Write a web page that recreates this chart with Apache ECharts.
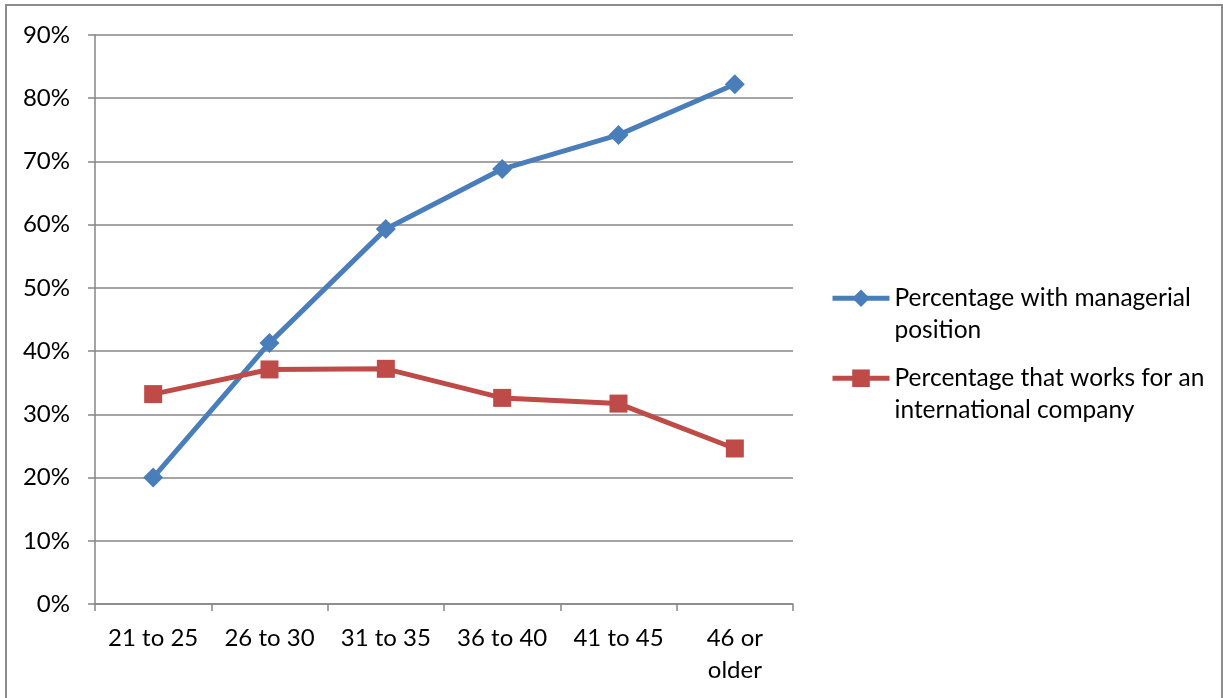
<!DOCTYPE html>
<html>
<head>
<meta charset="utf-8">
<script src="https://cdn.jsdelivr.net/npm/echarts@6/dist/echarts.min.js"></script>
<style>
  html, body { margin: 0; padding: 0; background: #fff; }
  #chart { width: 1223px; height: 698px; }
</style>
</head>
<body>
<div id="chart"></div>
<script>
// Age groups on the x axis
const ageGroups = ['21 to 25', '26 to 30', '31 to 35', '36 to 40', '41 to 45', '46 or\nolder'];
// Share of respondents (%) per age group
const managerial = [20.0, 41.3, 59.3, 68.8, 74.2, 82.2];
const international = [33.2, 37.1, 37.2, 32.6, 31.7, 24.6];
const seriesNames = ['Percentage with managerial position', 'Percentage that works for an international company'];
// Legend labels wrapped over two lines; the leading blank line keeps
// the first text line level with the legend icon.
const legendLines = {
  'Percentage with managerial position': ' \nPercentage with managerial\nposition',
  'Percentage that works for an international company': ' \nPercentage that works for an\ninternational company'
};

const FONT = 'Lato';
const FS = 24;
const chart = echarts.init(document.getElementById('chart'));

const legendCommon = {
  left: 830, orient: 'vertical', padding: 0,
  itemWidth: 57, itemHeight: 22, itemGap: 0,
  lineStyle: { width: 5 },
  formatter: n => legendLines[n],
  textStyle: { fontFamily: FONT, fontSize: 24.5, color: '#000', lineHeight: 31.5 }
};

chart.setOption({
  animation: false,
  graphic: [{
    type: 'rect',
    shape: { x: 6, y: 5, width: 1216, height: 760 },
    style: { fill: 'none', stroke: '#8c8c8c', lineWidth: 2 },
    silent: true
  }],
  grid: { left: 95, right: 430, top: 35, bottom: 94 },
  legend: [
    Object.assign({ data: [seriesNames[0]], top: 251 }, legendCommon),
    Object.assign({ data: [seriesNames[1]], top: 331 }, legendCommon)
  ],
  xAxis: {
    type: 'category',
    data: ageGroups,
    boundaryGap: true,
    axisLine: { lineStyle: { color: '#868686', width: 1.5 } },
    axisTick: { show: true, interval: 0, length: 7, lineStyle: { color: '#868686', width: 1.5 } },
    axisLabel: { interval: 0, fontFamily: FONT, fontSize: FS, color: '#000', margin: 18, lineHeight: 32 },
    splitLine: { show: false }
  },
  yAxis: {
    type: 'value',
    min: 0, max: 90, interval: 10,
    axisLine: { show: true, lineStyle: { color: '#868686', width: 1.5 } },
    axisTick: { show: true, length: 7, lineStyle: { color: '#868686', width: 1.5 } },
    axisLabel: { fontFamily: FONT, fontSize: FS, color: '#000', margin: 25, formatter: '{value}%' },
    splitLine: { show: true, lineStyle: { color: '#868686', width: 1.5 } }
  },
  series: [
    {
      name: seriesNames[0], type: 'line', data: managerial,
      symbol: 'diamond', symbolSize: 20,
      itemStyle: { color: '#4a7ebb' },
      lineStyle: { color: '#4a7ebb', width: 5 }
    },
    {
      name: seriesNames[1], type: 'line', data: international,
      symbol: 'rect', symbolSize: 18,
      itemStyle: { color: '#be4b48' },
      lineStyle: { color: '#be4b48', width: 5 }
    }
  ]
});
</script>
</body>
</html>
